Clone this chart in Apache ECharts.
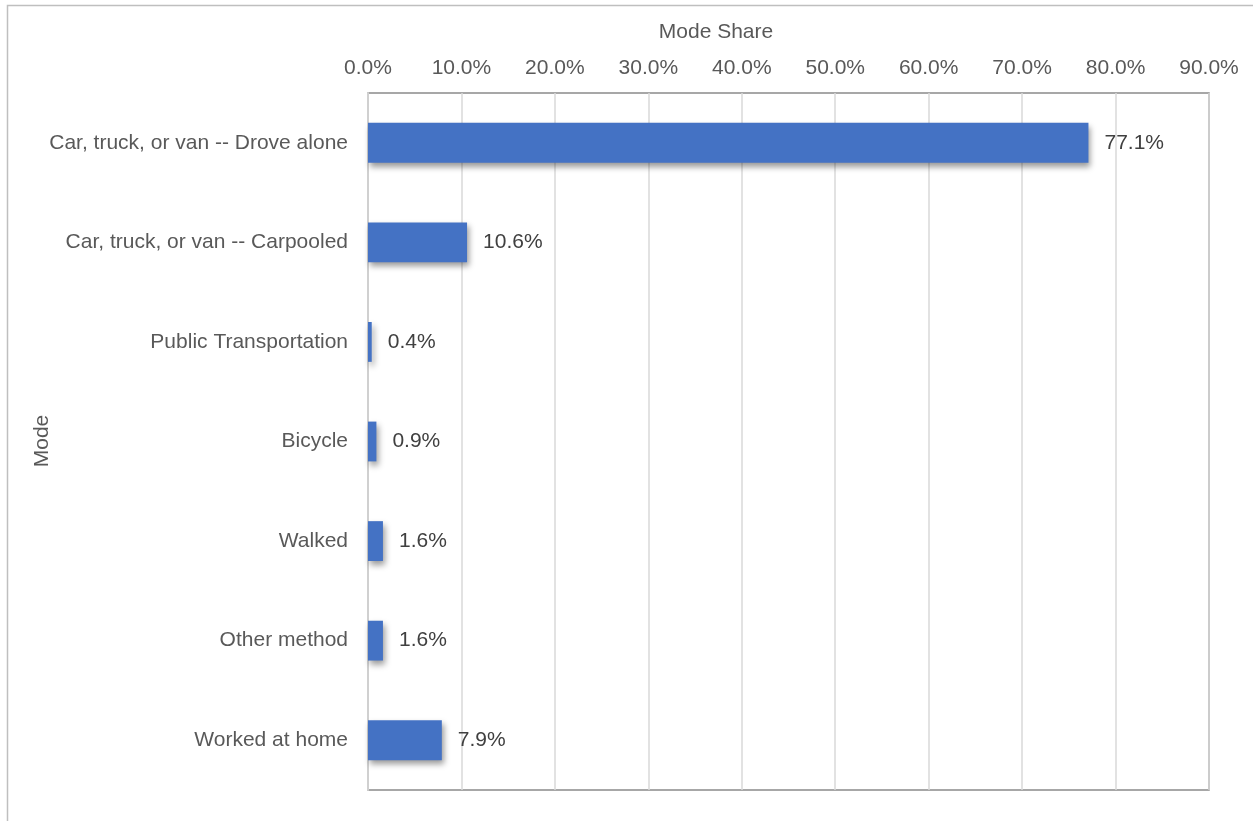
<!DOCTYPE html>
<html><head><meta charset="utf-8">
<script src="https://cdn.jsdelivr.net/npm/echarts@6/dist/echarts.min.js"></script>
<style>html,body{margin:0;padding:0;background:#fff;}#c{width:1253px;height:821px;}</style>
</head><body><div id="c"></div>
<script>
const categories = ["Car, truck, or van -- Drove alone","Car, truck, or van -- Carpooled","Public Transportation","Bicycle","Walked","Other method","Worked at home"];
const values = [77.1, 10.6, 0.4, 0.9, 1.6, 1.6, 7.9];
const xTicks = [0,10,20,30,40,50,60,70,80,90];

const chart = echarts.init(document.getElementById('c'), null, {renderer:'canvas'});
const font = "'Liberation Sans', Arial, sans-serif";
chart.setOption({
  animation:false,
  graphic:[
    {type:'rect',shape:{x:7.5,y:5.5,width:1260,height:830},style:{fill:null,stroke:'#bfbfbf',lineWidth:1.5},z:-10},
    {type:'text',x:716,y:32,style:{text:'Mode Share',textAlign:'center',textVerticalAlign:'middle',font:'21px '+font,fill:'#595959'}},
    {type:'text',x:42,y:441,rotation:Math.PI/2,style:{text:'Mode',textAlign:'center',textVerticalAlign:'middle',font:'21px '+font,fill:'#595959'}}
  ],
  grid:{left:368,right:44,top:93,bottom:31,show:true,borderColor:'#8a8a8a',borderWidth:1.5,backgroundColor:'transparent'},
  xAxis:{type:'value',position:'top',min:xTicks[0],max:xTicks[xTicks.length-1],interval:10,
    axisLine:{show:false},axisTick:{show:false},
    axisLabel:{fontFamily:font,fontSize:21,color:'#595959',margin:14,formatter:v=>v.toFixed(1)+'%'},
    splitLine:{show:true,lineStyle:{color:'#d9d9d9',width:1.5}}},
  yAxis:{type:'category',inverse:true,data:categories,
    axisLine:{show:true,lineStyle:{color:'#d0d0d0',width:2}},axisTick:{show:false},
    axisLabel:{fontFamily:font,fontSize:21,color:'#595959',margin:20}},
  series:[{type:'bar',data:values,barWidth:'40%',
    itemStyle:{color:'#4472C4',shadowColor:'rgba(0,0,0,0.4)',shadowBlur:6,shadowOffsetX:2,shadowOffsetY:4},
    label:{show:true,position:'right',distance:16,fontFamily:font,fontSize:21,color:'#404040',formatter:p=>p.value.toFixed(1)+'%'}}]
});
</script></body></html>
